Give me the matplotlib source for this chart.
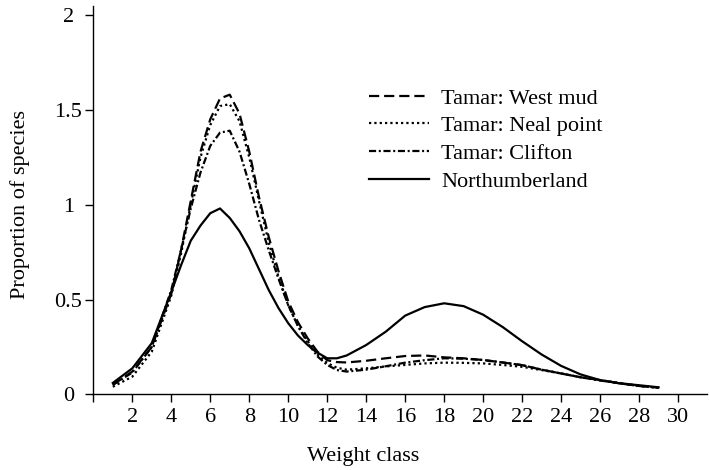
import matplotlib
matplotlib.use("Agg")
import matplotlib.pyplot as plt

# weight classes (half steps through the first peak)
weight = [1, 2, 3, 4, 4.5, 5, 5.5, 6, 6.5, 7, 7.5, 8, 8.5, 9, 9.5, 10, 10.5, 11, 11.5,
          12, 12.5, 13, 14, 15, 16, 17, 18, 19, 20, 21, 22, 23, 24, 25, 26, 27, 28, 29]

west_mud = [0.05, 0.12, 0.25, 0.53, 0.76, 1.02, 1.28, 1.45, 1.56, 1.58, 1.48, 1.28, 1.04,
            0.83, 0.65, 0.49, 0.38, 0.295, 0.225, 0.18, 0.17, 0.168, 0.177, 0.19, 0.202,
            0.205, 0.195, 0.19, 0.181, 0.168, 0.154, 0.13, 0.11, 0.09, 0.075, 0.058, 0.044, 0.035]
neal_point = [0.04, 0.093, 0.225, 0.52, 0.74, 1.0, 1.25, 1.42, 1.52, 1.53, 1.44, 1.25, 1.02,
              0.80, 0.62, 0.47, 0.36, 0.28, 0.21, 0.165, 0.14, 0.13, 0.137, 0.147, 0.155,
              0.163, 0.167, 0.166, 0.163, 0.155, 0.145, 0.128, 0.11, 0.09, 0.075, 0.06, 0.045, 0.035]
clifton = [0.05, 0.115, 0.25, 0.55, 0.76, 0.98, 1.17, 1.31, 1.38, 1.39, 1.28, 1.11, 0.92,
           0.76, 0.61, 0.47, 0.36, 0.27, 0.20, 0.155, 0.128, 0.12, 0.13, 0.148, 0.167,
           0.18, 0.19, 0.188, 0.181, 0.168, 0.154, 0.13, 0.11, 0.09, 0.073, 0.058, 0.044, 0.035]
northumberland = [0.06, 0.137, 0.27, 0.54, 0.68, 0.81, 0.89, 0.955, 0.98, 0.93, 0.86, 0.77,
                  0.66, 0.55, 0.455, 0.375, 0.31, 0.26, 0.22, 0.19, 0.19, 0.205, 0.26, 0.33,
                  0.415, 0.46, 0.48, 0.465, 0.42, 0.355, 0.28, 0.21, 0.15, 0.105, 0.075,
                  0.058, 0.048, 0.037]

labels = ["Tamar: West mud", "Tamar: Neal point", "Tamar: Clifton", "Northumberland"]
xticks = list(range(0, 31, 2))
xticklabels = [""] + [str(v) for v in xticks[1:]]
yticks = [0, 0.5, 1, 1.5, 2]
yticklabels = ["0", "0.5", "1", "1.5", "2"]

plt.rcParams['font.family'] = ['Liberation Serif', 'DejaVu Serif']
plt.rcParams['font.size'] = 16

fig = plt.figure(figsize=(7.09, 4.70), dpi=100)
ax = fig.add_axes([0.1316, 0.161, 0.866, 0.826])

lw = 1.6
ax.plot(weight, west_mud, color='black', lw=lw, linestyle=(0, (4.6, 2.2)), label=labels[0])
ax.plot(weight, neal_point, color='black', lw=lw, linestyle=(0, (1, 1.4)), label=labels[1])
ax.plot(weight, clifton, color='black', lw=lw, linestyle=(0, (3.2, 1.2, 0.9, 1.2)), label=labels[2])
ax.plot(weight, northumberland, color='black', lw=lw, linestyle='-', label=labels[3])

ax.set_xlim(0, 31.5)
ax.set_ylim(0, 2.047)
ax.set_xticks(xticks)
ax.set_xticklabels(xticklabels)
ax.set_yticks(yticks)
ax.set_yticklabels(yticklabels)
for lab in ax.get_yticklabels():
    lab.set_horizontalalignment('center')

ax.spines['top'].set_visible(False)
ax.spines['right'].set_visible(False)
ax.spines['left'].set_linewidth(1.0)
ax.spines['bottom'].set_linewidth(1.0)
ax.tick_params(axis='x', direction='out', length=5.5, width=1.0, pad=4)
ax.tick_params(axis='y', direction='out', length=6, width=1.0, pad=12)

ax.set_xlabel("Weight class")
ax.set_ylabel("Proportion of species")
ax.yaxis.set_label_coords(-0.103, 0.49)
ax.xaxis.set_label_coords(0.44, -0.135)

ax.legend(loc='upper left', bbox_to_anchor=(369 / 709, 1 - 88 / 470),
          bbox_transform=fig.transFigure, frameon=False, handlelength=2.7,
          handletextpad=0.55, labelspacing=0.32, borderpad=0, borderaxespad=0)

fig.savefig("out.png", dpi=100)
